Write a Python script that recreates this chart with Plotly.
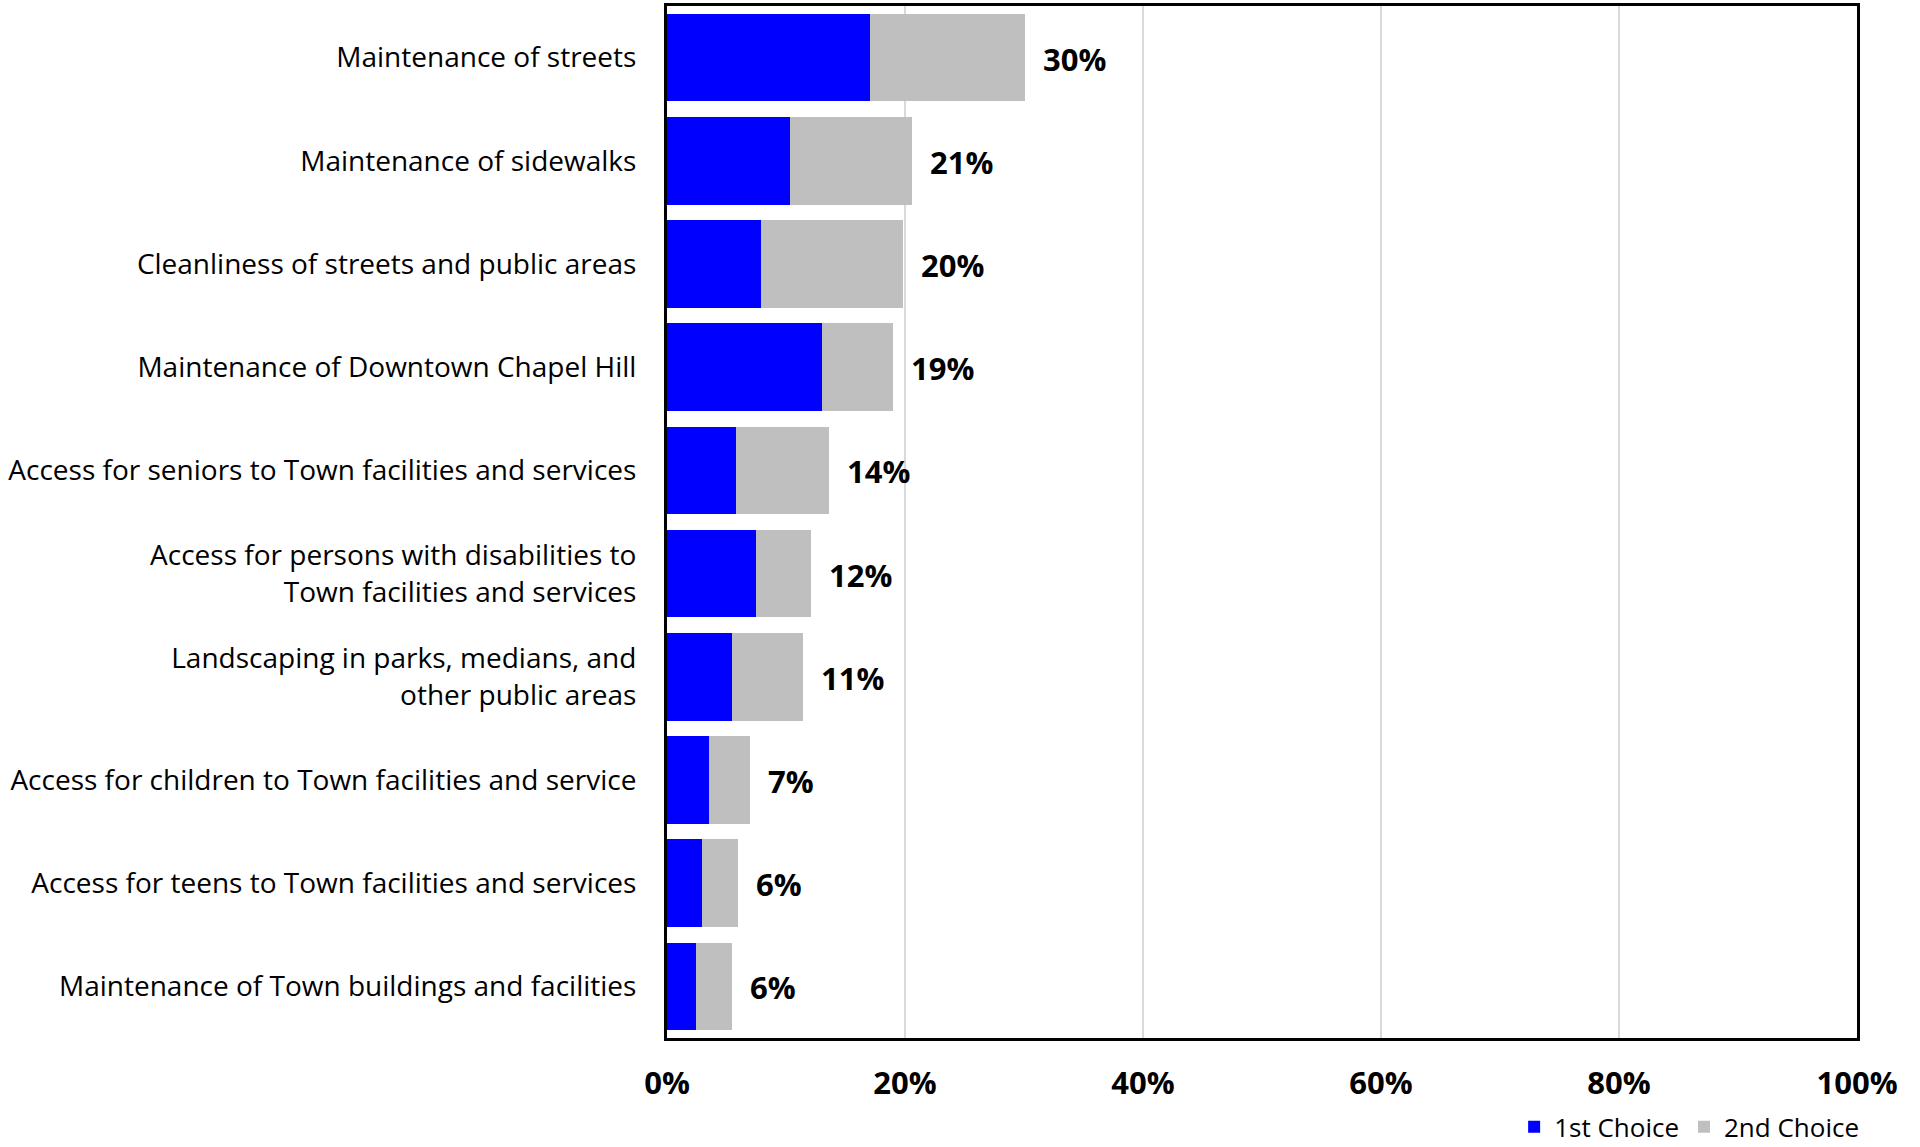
import plotly.graph_objects as go

categories = [
    "Maintenance of streets",
    "Maintenance of sidewalks",
    "Cleanliness of streets and public areas",
    "Maintenance of Downtown Chapel Hill",
    "Access for seniors to Town facilities and services",
    "Access for persons with disabilities to<br>Town facilities and services",
    "Landscaping in parks, medians, and<br>other public areas",
    "Access for children to Town facilities and service",
    "Access for teens to Town facilities and services",
    "Maintenance of Town buildings and facilities",
]
first_choice = [17.1, 10.3, 7.9, 13.0, 5.8, 7.5, 5.5, 3.5, 2.9, 2.4]
second_choice = [13.0, 10.3, 11.9, 6.0, 7.8, 4.6, 5.9, 3.5, 3.1, 3.1]
total_labels = ["30%", "21%", "20%", "19%", "14%", "12%", "11%", "7%", "6%", "6%"]
x_ticks = [0, 20, 40, 60, 80, 100]
x_tick_labels = ["0%", "20%", "40%", "60%", "80%", "100%"]

FONT = "Open Sans"
totals = [a + b for a, b in zip(first_choice, second_choice)]

fig = go.Figure()
fig.add_trace(go.Bar(
    y=categories, x=first_choice, orientation="h", name="1st Choice",
    marker=dict(color="#0000FF", line=dict(width=0)),
))
fig.add_trace(go.Bar(
    y=categories, x=second_choice, orientation="h", name="2nd Choice",
    marker=dict(color="#BFBFBF", line=dict(width=0)),
))

for cat, tot, lab in zip(categories, totals, total_labels):
    fig.add_annotation(
        x=tot, y=cat, text=lab, showarrow=False, xanchor="left", xshift=16,
        yshift=-1,
        font=dict(family=FONT, size=31, color="black", weight="bold"),
    )

fig.update_layout(
    barmode="stack",
    bargap=0.15,
    width=1920, height=1147,
    margin=dict(l=667, r=63, t=6, b=109, autoexpand=False),
    paper_bgcolor="white", plot_bgcolor="white",
    font=dict(family=FONT, color="black"),
    legend=dict(
        orientation="h", x=1.006, xanchor="right", y=-0.086, yanchor="middle",
        font=dict(family=FONT, size=26, color="black"),
        traceorder="normal", itemwidth=30,
    ),
    xaxis=dict(
        range=[0, 100], tickvals=x_ticks, ticktext=x_tick_labels,
        showgrid=True, gridcolor="#D9D9D9", gridwidth=1.5,
        showline=True, linecolor="black", linewidth=3, mirror=True,
        ticks="", ticklabelstandoff=16,
        tickfont=dict(family=FONT, size=31, color="black", weight="bold"),
        zeroline=False,
    ),
    yaxis=dict(
        categoryorder="array", categoryarray=categories[::-1],
        showline=True, linecolor="black", linewidth=3, mirror=True,
        ticks="", ticklabelstandoff=22,
        tickfont=dict(family=FONT, size=28, color="black"),
        showgrid=False,
    ),
)

fig.write_html("out.html")
